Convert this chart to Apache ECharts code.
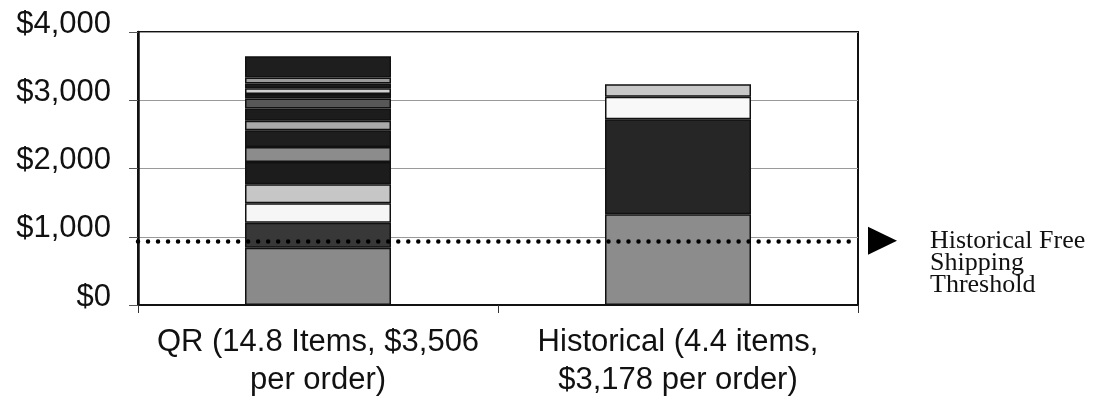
<!DOCTYPE html>
<html>
<head>
<meta charset="utf-8">
<script src="https://cdn.jsdelivr.net/npm/echarts@6/dist/echarts.min.js"></script>
<style>
  html, body { margin: 0; padding: 0; background: #fff; }
  #chart { width: 1095px; height: 407px; }
</style>
</head>
<body>
<div id="chart"></div>
<script>
// Order composition: stacked item costs per order, bottom layer first
const categories = ['QR (14.8 Items, $3,506\nper order)', 'Historical (4.4 items,\n$3,178 per order)'];
const qrLayers = [840, 365, 285, 280, 325, 220, 245, 140, 180, 145, 65, 85, 70, 90, 310];
const historicalLayers = [1330, 1390, 330, 185];
const freeShippingThreshold = 940;
const yTicks = [0, 1000, 2000, 3000, 4000];
const thresholdLabel = ['Historical Free', 'Shipping', 'Threshold'];

// grey fills for each layer
const qrShades = ['#8a8a8a', '#383838', '#f6f6f6', '#c6c6c6', '#1c1c1c', '#8c8c8c', '#1e1e1e', '#aaaaaa',
                  '#1c1c1c', '#575757', '#1c1c1c', '#d2d2d2', '#1c1c1c', '#9c9c9c', '#1e1e1e'];
const historicalShades = ['#8c8c8c', '#262626', '#f8f8f8', '#c8c8c8'];

const W = 1095;
const gridLayout = { left: 138, right: 237, top: 32, bottom: 102 };

const layerCount = Math.max(qrLayers.length, historicalLayers.length);
const barSeries = [];
for (let i = 0; i < layerCount; i++) {
  const cell = (vals, shades) => i < vals.length
    ? { value: vals[i], itemStyle: { color: shades[i] } }
    : '-';
  barSeries.push({
    type: 'bar',
    stack: 'order',
    barWidth: 146,
    silent: true,
    itemStyle: { borderColor: '#111', borderWidth: 1.5 },
    data: [cell(qrLayers, qrShades), cell(historicalLayers, historicalShades)]
  });
}

const chart = echarts.init(document.getElementById('chart'), null, { renderer: 'canvas' });

chart.setOption({
  animation: false,
  backgroundColor: '#fff',
  grid: Object.assign({ show: true, borderColor: '#111', borderWidth: 2 }, gridLayout),
  xAxis: {
    type: 'category',
    data: categories,
    axisLine: { lineStyle: { color: '#111', width: 2 } },
    axisTick: { show: true, alignWithLabel: false, length: 8, lineStyle: { color: '#333', width: 1 } },
    axisLabel: {
      interval: 0,
      margin: 18,
      fontFamily: 'Liberation Sans',
      fontSize: 31,
      lineHeight: 38,
      color: '#111'
    }
  },
  yAxis: {
    type: 'value',
    min: yTicks[0],
    max: yTicks[yTicks.length - 1],
    interval: yTicks[1] - yTicks[0],
    axisLine: { show: true, lineStyle: { color: '#111', width: 2.5 } },
    axisTick: { show: true, inside: false, length: 9, lineStyle: { color: '#555', width: 1 } },
    splitLine: { show: true, lineStyle: { color: '#9a9a9a', width: 1 } },
    axisLabel: {
      margin: 27,
      fontFamily: 'Liberation Sans',
      fontSize: 31,
      color: '#111',
      verticalAlign: 'bottom',
      lineHeight: 16,
      formatter: v => '$' + v.toLocaleString('en-US')
    }
  },
  series: barSeries.concat([{
    type: 'line',
    data: [],
    z: 10,
    silent: true,
    markLine: {
      silent: true,
      symbol: ['none', 'none'],
      label: { show: false },
      lineStyle: { color: '#000', width: 4.5, type: [0.01, 10], cap: 'round' },
      data: [{ yAxis: freeShippingThreshold }]
    }
  }])
});

// arrow and caption for the threshold line, placed from the axis scale
const ty = chart.convertToPixel({ yAxisIndex: 0 }, freeShippingThreshold);
const gx = W - gridLayout.right;
chart.setOption({
  graphic: [
    {
      type: 'polygon',
      silent: true,
      shape: { points: [[gx + 10, ty - 14], [gx + 39, ty], [gx + 10, ty + 14]] },
      style: { fill: '#000' }
    },
    {
      type: 'text',
      silent: true,
      x: gx + 72,
      y: ty - 11,
      style: {
        text: thresholdLabel.join('\n'),
        font: '26px "Liberation Serif"',
        lineHeight: 22,
        fill: '#111',
        verticalAlign: 'top',
        align: 'left'
      }
    }
  ]
});
</script>
</body>
</html>
